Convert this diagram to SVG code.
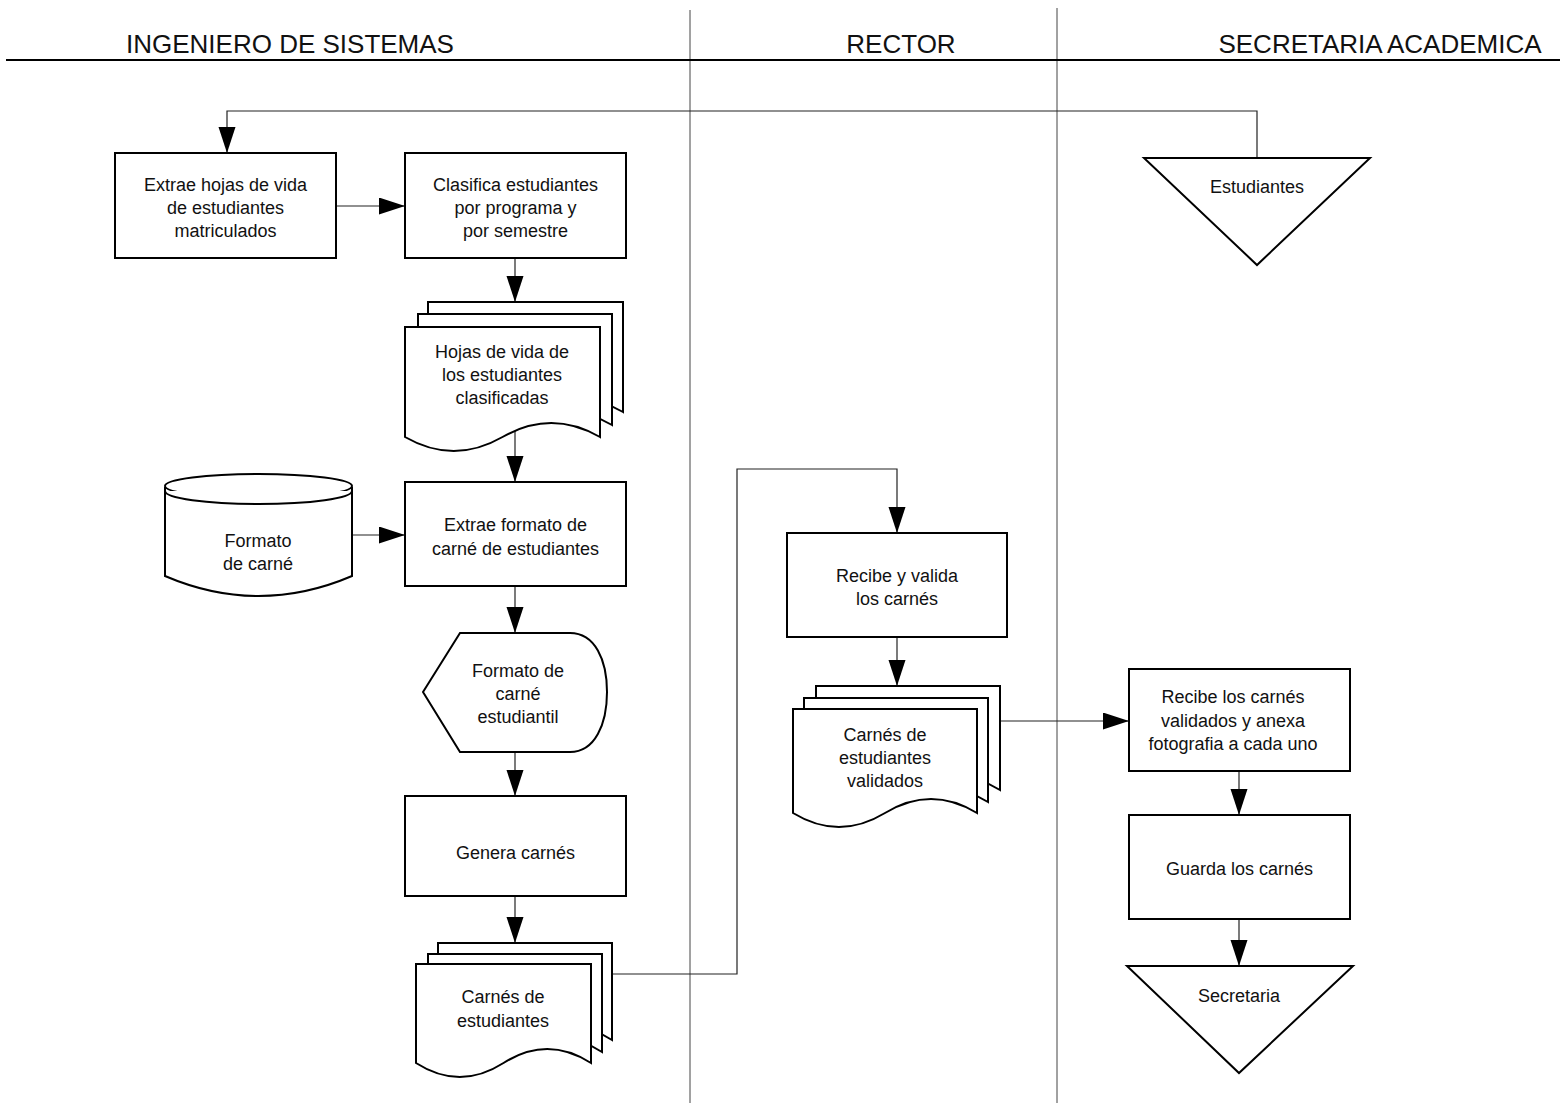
<svg xmlns="http://www.w3.org/2000/svg" width="1560" height="1103" viewBox="0 0 1560 1103">
<style>
  text { font-family: "Liberation Sans", Arial, Helvetica, sans-serif; fill: #111; }
  .hdr { font-size: 26px; text-anchor: middle; }
  .lbl { font-size: 18px; text-anchor: middle; }
  .shape { fill: #fff; stroke: #000; stroke-width: 2; }
  .conn { fill: none; stroke: #222; stroke-width: 1.2; }
  .lane { fill: none; stroke: #444; stroke-width: 1; }
</style>
<defs>
  <marker id="arr" markerUnits="userSpaceOnUse" markerWidth="27" markerHeight="18" refX="26" refY="8.5" orient="auto">
    <path d="M0,0 L26,8.5 L0,17 Z" fill="#000"/>
  </marker>
</defs>
<rect width="1560" height="1103" fill="#fff"/>

<g id="lanes">
  <line class="lane" x1="690" y1="10" x2="690" y2="1103"/>
  <line class="lane" x1="1057" y1="8" x2="1057" y2="1103"/>
  <line x1="6" y1="60" x2="1560" y2="60" stroke="#000" stroke-width="2"/>
  <text class="hdr" x="290" y="53">INGENIERO DE SISTEMAS</text>
  <text class="hdr" x="901" y="53">RECTOR</text>
  <text class="hdr" x="1380" y="53">SECRETARIA ACADEMICA</text>
</g>

<g id="connectors">
  <polyline class="conn" points="1257,158 1257,111 227,111 227,153" marker-end="url(#arr)"/>
  <line class="conn" x1="336" y1="206" x2="405" y2="206" marker-end="url(#arr)"/>
  <line class="conn" x1="515" y1="258" x2="515" y2="302" marker-end="url(#arr)"/>
  <line class="conn" x1="515" y1="428" x2="515" y2="482" marker-end="url(#arr)"/>
  <line class="conn" x1="352" y1="535" x2="405" y2="535" marker-end="url(#arr)"/>
  <line class="conn" x1="515" y1="586" x2="515" y2="633" marker-end="url(#arr)"/>
  <line class="conn" x1="515" y1="752" x2="515" y2="796" marker-end="url(#arr)"/>
  <line class="conn" x1="515" y1="896" x2="515" y2="943" marker-end="url(#arr)"/>
  <polyline class="conn" points="612,974 737,974 737,469 897,469 897,533" marker-end="url(#arr)"/>
  <line class="conn" x1="897" y1="637" x2="897" y2="686" marker-end="url(#arr)"/>
  <line class="conn" x1="1000" y1="721" x2="1129" y2="721" marker-end="url(#arr)"/>
  <line class="conn" x1="1239" y1="771" x2="1239" y2="815" marker-end="url(#arr)"/>
  <line class="conn" x1="1239" y1="919" x2="1239" y2="966" marker-end="url(#arr)"/>
</g>

<g id="n1">
  <rect class="shape" x="115" y="153" width="221" height="105"/>
  <text class="lbl" x="225.5" y="191">Extrae hojas de vida</text>
  <text class="lbl" x="225.5" y="214">de estudiantes</text>
  <text class="lbl" x="225.5" y="237">matriculados</text>
</g>

<g id="n2">
  <rect class="shape" x="405" y="153" width="221" height="105"/>
  <text class="lbl" x="515.5" y="191">Clasifica estudiantes</text>
  <text class="lbl" x="515.5" y="214">por programa y</text>
  <text class="lbl" x="515.5" y="237">por semestre</text>
</g>

<g id="n3">
  <path class="shape" d="M428,412 L428,302 L623,302 L623,412 Q574.25,384 525.5,412 T428,412 Z"/>
  <path class="shape" d="M418,425 L418,314 L612,314 L612,425 Q563.5,397 515,425 Q466.5,453 418,425 Z"/>
  <path class="shape" d="M405,437 L405,327 L600,327 L600,437 Q551.25,409 502.5,437 Q453.75,465 405,437 Z"/>
  <text class="lbl" x="502" y="358">Hojas de vida de</text>
  <text class="lbl" x="502" y="381">los estudiantes</text>
  <text class="lbl" x="502" y="404">clasificadas</text>
</g>

<g id="n4">
  <path class="shape" d="M165,487 L165,576 Q258.5,616 352,576 L352,487"/>
  <ellipse class="shape" cx="258.5" cy="486" rx="93.5" ry="12"/>
  <path class="shape" d="M165,491 A93.5,13 0 0 0 352,491" fill="none"/>
  <text class="lbl" x="258" y="547">Formato</text>
  <text class="lbl" x="258" y="570">de carné</text>
</g>

<g id="n5">
  <rect class="shape" x="405" y="482" width="221" height="104"/>
  <text class="lbl" x="515.5" y="531">Extrae formato de</text>
  <text class="lbl" x="515.5" y="555">carné de estudiantes</text>
</g>

<g id="n6">
  <path class="shape" d="M423,692 L460,633 L570,633 C595,633 607,660 607,692 C607,724 595,752 570,752 L460,752 Z"/>
  <text class="lbl" x="518" y="677">Formato de</text>
  <text class="lbl" x="518" y="700">carné</text>
  <text class="lbl" x="518" y="723">estudiantil</text>
</g>

<g id="n7">
  <rect class="shape" x="405" y="796" width="221" height="100"/>
  <text class="lbl" x="515.5" y="859">Genera carnés</text>
</g>

<g id="n8">
  <path class="shape" d="M438,1040 L438,943 L612,943 L612,1040 Q568.5,1012 525,1040 Q481.5,1068 438,1040 Z"/>
  <path class="shape" d="M428,1052 L428,954 L602,954 L602,1052 Q558.5,1024 515,1052 Q471.5,1080 428,1052 Z"/>
  <path class="shape" d="M416,1063 L416,964 L591,964 L591,1063 Q547.25,1035 503.5,1063 Q459.75,1091 416,1063 Z"/>
  <text class="lbl" x="503" y="1003">Carnés de</text>
  <text class="lbl" x="503" y="1027">estudiantes</text>
</g>

<g id="n9">
  <rect class="shape" x="787" y="533" width="220" height="104"/>
  <text class="lbl" x="897" y="582">Recibe y valida</text>
  <text class="lbl" x="897" y="605">los carnés</text>
</g>

<g id="n10">
  <path class="shape" d="M816,790 L816,686 L1000,686 L1000,790 Q954,762 908,790 Q862,818 816,790 Z"/>
  <path class="shape" d="M804,802 L804,698 L988,698 L988,802 Q942,774 896,802 Q850,830 804,802 Z"/>
  <path class="shape" d="M793,813 L793,709 L977,709 L977,813 Q931,785 885,813 Q839,841 793,813 Z"/>
  <text class="lbl" x="885" y="741">Carnés de</text>
  <text class="lbl" x="885" y="764">estudiantes</text>
  <text class="lbl" x="885" y="787">validados</text>
</g>

<g id="n11">
  <polygon class="shape" points="1144,158 1370,158 1257,265"/>
  <text class="lbl" x="1257" y="193">Estudiantes</text>
</g>

<g id="n12">
  <rect class="shape" x="1129" y="669" width="221" height="102"/>
  <text class="lbl" x="1233" y="703">Recibe los carnés</text>
  <text class="lbl" x="1233" y="727">validados y anexa</text>
  <text class="lbl" x="1233" y="750">fotografia a cada uno</text>
</g>

<g id="n13">
  <rect class="shape" x="1129" y="815" width="221" height="104"/>
  <text class="lbl" x="1239.5" y="875">Guarda los carnés</text>
</g>

<g id="n14">
  <polygon class="shape" points="1127,966 1353,966 1239,1073"/>
  <text class="lbl" x="1239" y="1002">Secretaria</text>
</g>
</svg>
